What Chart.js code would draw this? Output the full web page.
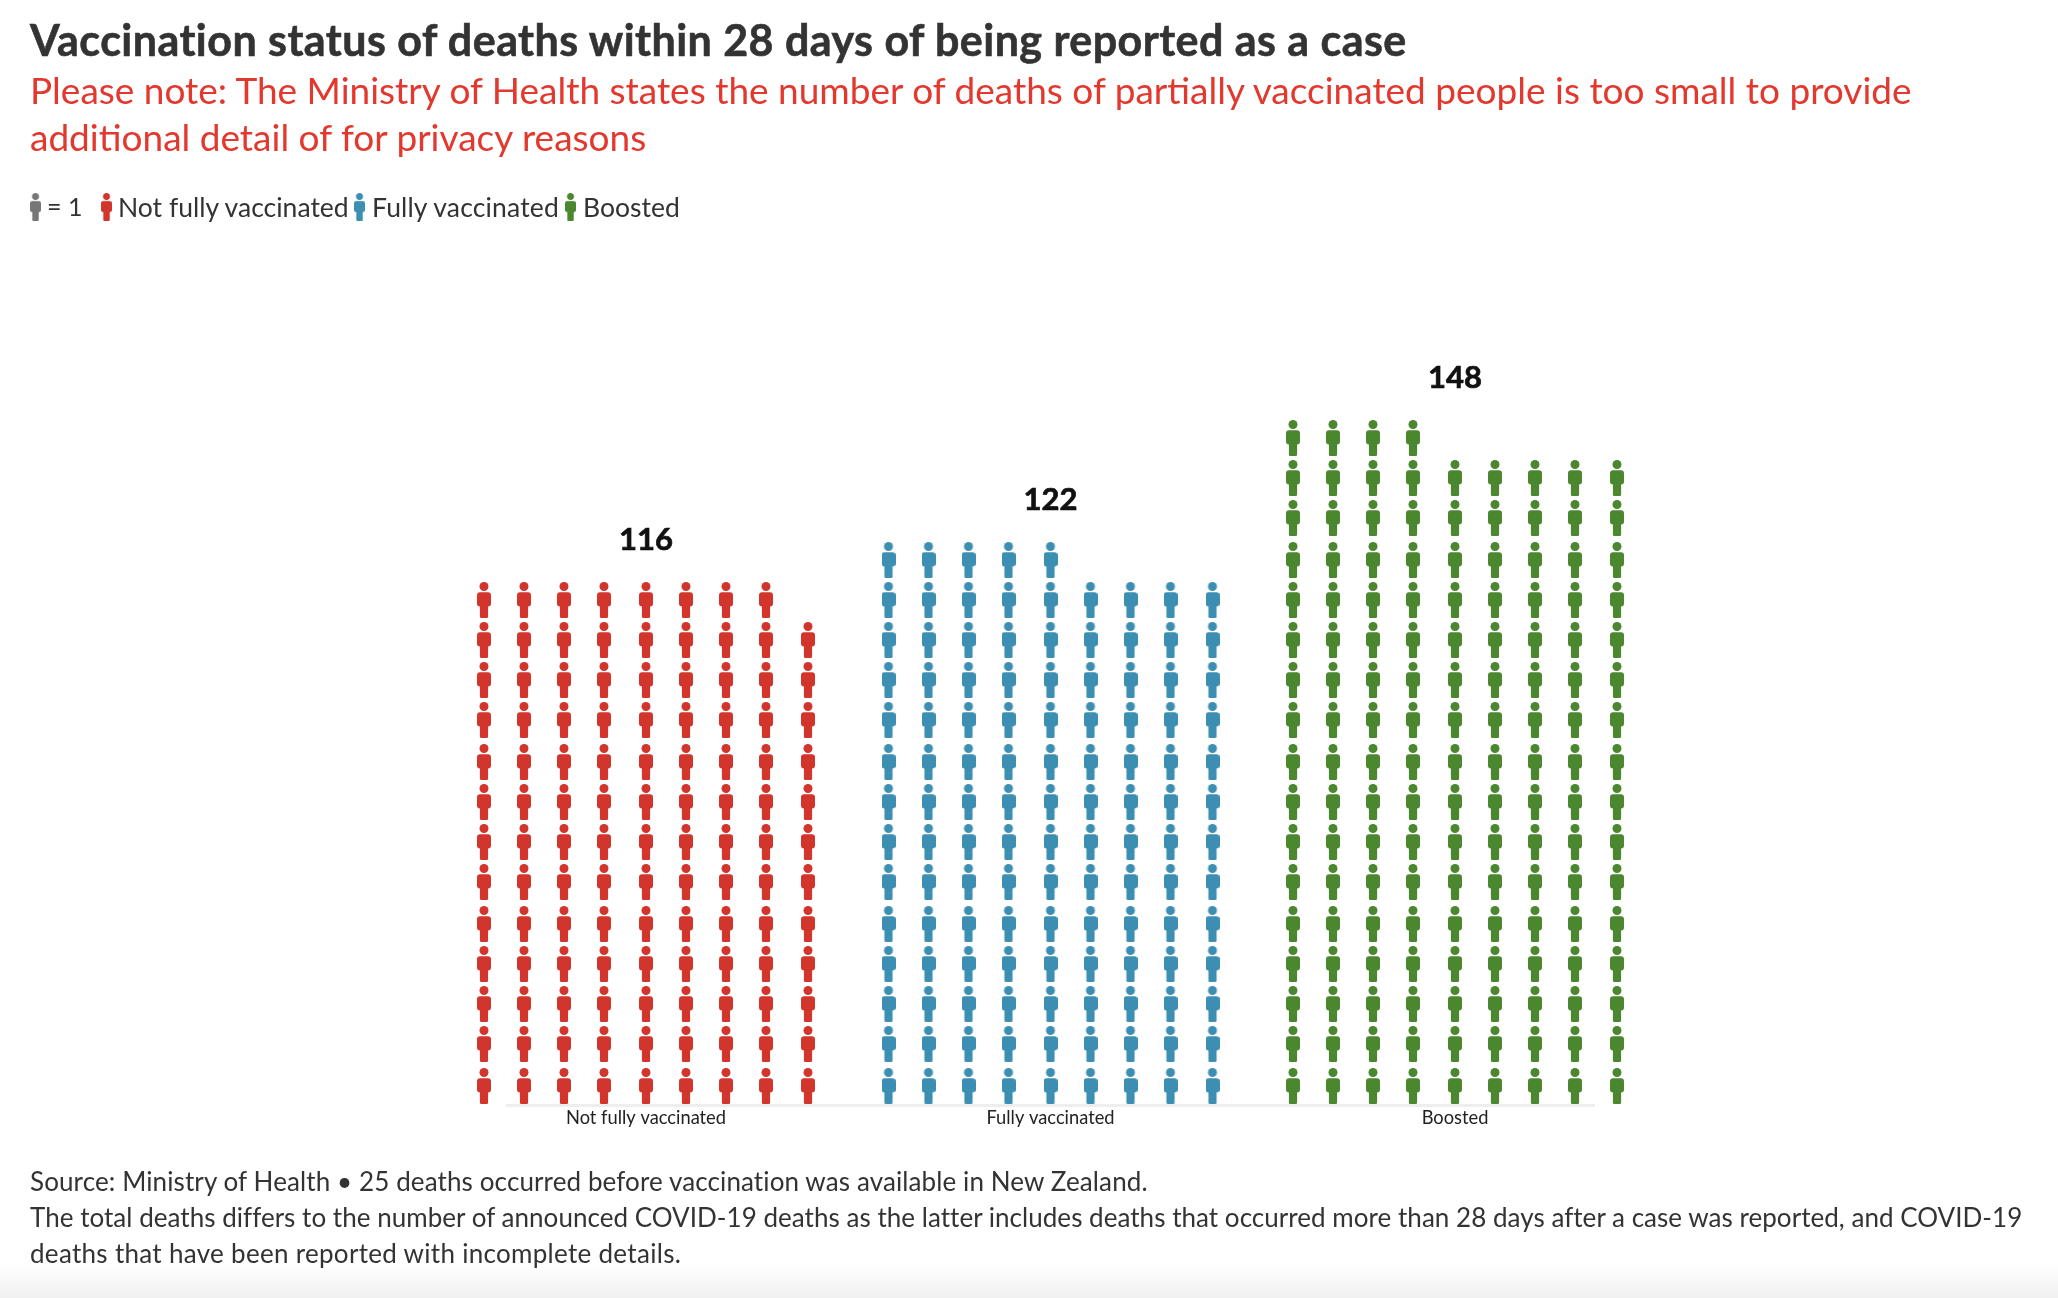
<!DOCTYPE html>
<html lang="en">
<head>
    <meta charset="UTF-8">
    <title>Vaccination status of deaths</title>
    <script src="https://cdn.jsdelivr.net/npm/chart.js"></script>
    <style>
        html, body{
            margin: 0;
            padding: 0;
            background: #fff;
        }
        body{
            position: relative;
            width: 2058px;
            height: 1298px;
            overflow: hidden;
            font-family: "Lato", sans-serif;
            color: #333;
        }
        .txt{
            position: absolute;
            left: 30px;
            white-space: nowrap;
            line-height: 1;
            z-index: 2;
        }
        #title{ top: 18px; font-size: 43px; font-weight: 700; letter-spacing: 0.46px; -webkit-text-stroke: 0.6px #333; }
        .note{ font-size: 37px; color: #e2382e; }
        .leg{ font-size: 26.5px; }
        .foot{ font-size: 26px; }
        .legicon{
            position: absolute;
            top: 193px;
            width: 11px;
            height: 28px;
            z-index: 2;
        }
        #fade{
            position: absolute;
            left: 0;
            right: 0;
            top: 1262px;
            height: 36px;
            background: linear-gradient(#fff, #f1f1f1);
        }
        #chart-wrap{
            position: absolute;
            left: 0;
            top: 0;
            width: 2058px;
            height: 1298px;
        }
    </style>
</head>
<body>
    <div id="fade"></div>
    <div id="title" class="txt">Vaccination status of deaths within 28 days of being reported as a case</div>
    <div class="txt note" style="top:71px">Please note: The Ministry of Health states the number of deaths of partially vaccinated people is too small to provide</div>
    <div class="txt note" style="top:118px">additional detail of for privacy reasons</div>

    <div class="txt leg" style="left:47px;top:194px;font-size:25px">= 1</div>
    <div class="txt leg" style="left:118px;top:194px">Not fully vaccinated</div>
    <div class="txt leg" style="left:372px;top:194px;letter-spacing:0.15px">Fully vaccinated</div>
    <div class="txt leg" style="left:583px;top:194px">Boosted</div>

    <div class="txt foot" style="top:1168px;letter-spacing:0.11px">Source: Ministry of Health • 25 deaths occurred before vaccination was available in New Zealand.</div>
    <div class="txt foot" style="top:1204px;letter-spacing:0.035px">The total deaths differs to the number of announced COVID-19 deaths as the latter includes deaths that occurred more than 28 days after a case was reported, and COVID-19</div>
    <div class="txt foot" style="top:1240px;letter-spacing:0.3px">deaths that have been reported with incomplete details.</div>

    <div id="chart-wrap"><canvas id="chart" width="2058" height="1298"></canvas></div>

    <script>
        const categories = ["Not fully vaccinated", "Fully vaccinated", "Boosted"]
        const deaths = [116, 122, 148]
        const rowsPerCol = [13, 13, 16]
        const colors = ["#d1352b", "#3c8fb2", "#4a872f"]
        const keyColor = "#777777"

        // one icon is one person, 9 columns wide
        const COLS = 9
        const GROUP_STEP = 10.1125
        const AXIS_FROM = -3.5
        const AXIS_TO = 23.725
        // rows where the spacing picks up a small extra gap
        const ROW_GAPS = [1, 5, 9, 14]

        function makeIcon(color){
            const c = document.createElement("canvas")
            c.width = 14
            c.height = 36
            const ctx = c.getContext("2d")
            ctx.fillStyle = color
            ctx.beginPath()
            ctx.arc(7, 4.5, 4.5, 0, Math.PI * 2)
            ctx.fill()
            ctx.beginPath()
            ctx.roundRect(0, 10.2, 14, 14.4, 3)
            ctx.fill()
            ctx.beginPath()
            ctx.roundRect(2.9, 20, 8.2, 16, [0, 0, 1.5, 1.5])
            ctx.fill()
            return c
        }

        function colPos(n){
            return n + Math.floor(n / 4) * 0.05
        }

        function rowPos(n){
            return n + ROW_GAPS.filter(r => r <= n).length * 0.05
        }

        function buildPoints(value, rows, group){
            const pts = []
            const extra = value - rows * (COLS - 1)
            for(let col = 0; col < COLS; col++){
                // left columns take the leftover row
                let h = rows
                if(extra > rows){
                    h = col < extra - rows ? rows + 1 : rows
                }else if(col == COLS - 1){
                    h = extra
                }
                for(let row = 0; row < h; row++){
                    pts.push({
                        x: group * GROUP_STEP + colPos(col) - 4.05,
                        y: rowPos(row) + 0.475
                    })
                }
            }
            return pts
        }

        const datasets = categories.map((name, i) => ({
            label: name,
            data: buildPoints(deaths[i], rowsPerCol[i], i),
            pointStyle: makeIcon(colors[i]),
            clip: false
        }))

        // axis line is shorter than the plot, icons hang over both ends
        const baselinePlugin = {
            id: "baseline",
            beforeDatasetsDraw(chart){
                const ctx = chart.ctx
                const x = chart.scales.x
                ctx.save()
                ctx.strokeStyle = "#eeeeee"
                ctx.lineWidth = 3
                ctx.beginPath()
                ctx.moveTo(x.getPixelForValue(AXIS_FROM), chart.chartArea.bottom + 0.5)
                ctx.lineTo(x.getPixelForValue(AXIS_TO), chart.chartArea.bottom + 0.5)
                ctx.stroke()
                ctx.restore()
            }
        }

        // value above each stack
        const totalsPlugin = {
            id: "totals",
            afterDatasetsDraw(chart){
                const ctx = chart.ctx
                ctx.save()
                ctx.font = "700 31px Lato"
                ctx.fillStyle = "#111"
                ctx.strokeStyle = "#111"
                ctx.lineWidth = 0.7
                ctx.textAlign = "center"
                ctx.textBaseline = "middle"
                deaths.forEach((v, i) => {
                    const top = Math.max(...chart.data.datasets[i].data.map(p => p.y))
                    const x = chart.scales.x.getPixelForValue(i * GROUP_STEP)
                    const y = chart.scales.y.getPixelForValue(top) - 60
                    ctx.fillText(v, x, y)
                    ctx.strokeText(v, x, y)
                })
                ctx.restore()
            }
        }

        new Chart(document.getElementById("chart"), {
            type: "scatter",
            data: { datasets: datasets },
            plugins: [baselinePlugin, totalsPlugin],
            options: {
                responsive: false,
                animation: false,
                events: [],
                layout: { padding: { left: 460, right: 418, top: 340, bottom: 153 } },
                plugins: { legend: { display: false }, tooltip: { enabled: false } },
                scales: {
                    x: {
                        type: "linear",
                        min: -4.65,
                        max: 24.85,
                        grid: { display: false },
                        border: { display: false },
                        afterBuildTicks(scale){
                            scale.ticks = categories.map((c, i) => ({ value: i * GROUP_STEP }))
                        },
                        afterFit(scale){
                            scale.height = 40
                        },
                        ticks: {
                            autoSkip: false,
                            maxRotation: 0,
                            padding: -6,
                            color: "#222",
                            font: { family: "Lato", size: 18.3 },
                            callback: (v, i) => categories[i]
                        }
                    },
                    y: {
                        display: false,
                        min: 0,
                        max: 19.125
                    }
                }
            }
        })

        // legend icons
        const legendIcons = [[30, keyColor], [101, colors[0]], [354, colors[1]], [565, colors[2]]]
        legendIcons.forEach(item => {
            const c = makeIcon(item[1])
            c.className = "legicon"
            c.style.left = item[0] + "px"
            document.body.appendChild(c)
        })
    </script>
</body>
</html>
